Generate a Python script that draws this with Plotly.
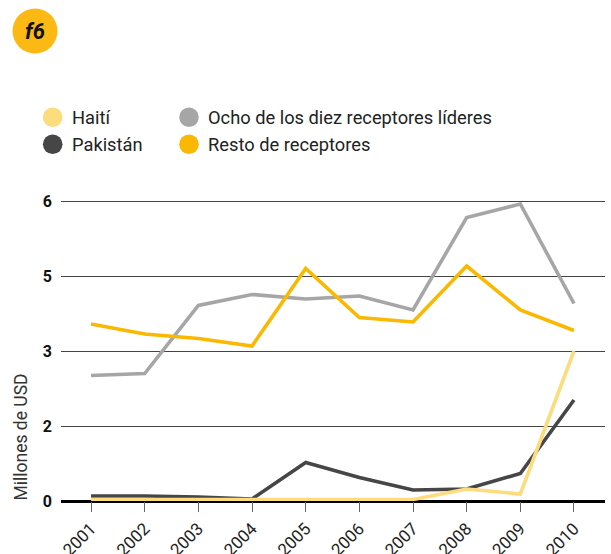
import plotly.graph_objects as go

years = [2001, 2002, 2003, 2004, 2005, 2006, 2007, 2008, 2009, 2010]
haiti = [0.03, 0.03, 0.03, 0.03, 0.03, 0.03, 0.03, 0.24, 0.14, 3.0]
pakistan = [0.1, 0.1, 0.08, 0.04, 0.77, 0.47, 0.22, 0.24, 0.55, 2.02]
ocho = [2.51, 2.55, 3.91, 4.13, 4.04, 4.10, 3.82, 5.67, 5.94, 3.95]
resto = [3.54, 3.34, 3.25, 3.10, 4.65, 3.67, 3.58, 4.70, 3.82, 3.41]

ytick_vals = [0, 1.5, 3, 4.5, 6]
ytick_text = ["0", "2", "3", "5", "6"]

colors = {"Haití": "#FDDC7E", "Pakistán": "#464646",
          "Ocho de los diez receptores líderes": "#A6A6A6", "Resto de receptores": "#FBB800"}

FONT = "Roboto"
W, H = 611, 554
YMAX = 6.04
L, R, B = 61, 6, 53
PH = 300 * YMAX / 6
T = H - B - PH
PW = W - L - R


def px(x):
    return (x - L) / PW


def py(y):
    return (H - B - y) / PH


fig = go.Figure()
for name, vals in [("Ocho de los diez receptores líderes", ocho), ("Pakistán", pakistan),
                   ("Resto de receptores", resto), ("Haití", haiti)]:
    fig.add_trace(go.Scatter(x=years, y=vals, mode="lines", name=name,
                             line=dict(color=colors[name], width=3.6), showlegend=False))

shapes = []
annotations = []
# badge
shapes.append(dict(type="circle", xref="paper", yref="paper",
                   x0=px(12.5), x1=px(57.5), y0=py(53.5), y1=py(8.5),
                   fillcolor="#FDB913", line=dict(width=0), layer="above"))
annotations.append(dict(text="<b><i>f6</i></b>", xref="paper", yref="paper", x=px(35), y=py(31),
                        showarrow=False, xanchor="center", yanchor="middle",
                        font=dict(family=FONT, size=22, color="#111")))
# legend
leg = [("Haití", 52.7, 117.3), ("Pakistán", 52.7, 144.3),
       ("Ocho de los diez receptores líderes", 189, 117.3), ("Resto de receptores", 189, 144.3)]
for name, cx, cy in leg:
    r = 9.8
    shapes.append(dict(type="circle", xref="paper", yref="paper",
                       x0=px(cx - r), x1=px(cx + r), y0=py(cy + r), y1=py(cy - r),
                       fillcolor=colors[name], line=dict(width=0)))
    annotations.append(dict(text=name, xref="paper", yref="paper", x=px(cx + 17), y=py(cy),
                            showarrow=False, xanchor="left", yanchor="middle",
                            font=dict(family=FONT, size=18.3, color="#222")))
# y title
annotations.append(dict(text="Millones de USD", xref="paper", yref="paper", x=px(20), y=py(437.5),
                        showarrow=False, textangle=-90, xanchor="center", yanchor="middle",
                        font=dict(family=FONT, size=17.5, color="#333")))

fig.update_layout(
    width=W, height=H, margin=dict(l=L, r=R, t=T, b=B, autoexpand=False),
    paper_bgcolor="white", plot_bgcolor="white",
    shapes=shapes, annotations=annotations, showlegend=False,
    xaxis=dict(range=[2000.44, 2010.578], tickvals=years, ticktext=[str(y) for y in years],
               tickangle=-45, ticks="outside", ticklen=10, tickcolor="#666", tickwidth=1.2,
               showgrid=False, zeroline=False, showline=False, automargin=False,
               tickfont=dict(family=FONT, size=17, color="#222")),
    yaxis=dict(range=[0, YMAX], tickvals=ytick_vals, ticktext=ytick_text,
               showgrid=True, gridcolor="#444", gridwidth=1,
               zeroline=True, zerolinecolor="#000", zerolinewidth=2.6,
               ticks="", ticklabelstandoff=8, showline=False, automargin=False,
               tickfont=dict(family=FONT, size=16, color="#111", weight="bold")),
)

fig.write_html("out.html", config={"displayModeBar": False},
               post_script="document.body.style.margin='0';")
